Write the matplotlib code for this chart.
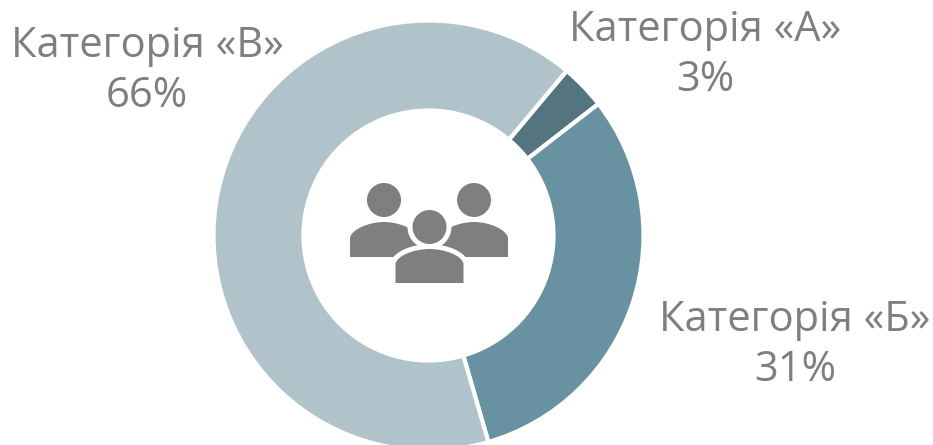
import matplotlib
matplotlib.use('Agg')
import matplotlib.pyplot as plt
from matplotlib.patches import Circle, PathPatch
from matplotlib.path import Path

categories = ['Категорія «А»', 'Категорія «Б»', 'Категорія «В»']
shares = [3.4, 31, 65.6]
colors = ['#54757f', '#6892a1', '#b1c3ca']

W, H = 933, 445
plt.rcParams['font.family'] = ['Open Sans', 'DejaVu Sans']

fig = plt.figure(figsize=(W / 100, H / 100), dpi=100)
ax = fig.add_axes([0, 0, 1, 1])

# y axis is flipped below, so the angle and direction are flipped too
cx, cy, r = 428.5, 235.5, 215
ax.pie(shares, colors=colors, center=(cx, cy), radius=r, startangle=-50, counterclock=True,
       wedgeprops=dict(width=90, edgecolor='white', linewidth=3), frame=True)
ax.set_xlim(0, W)
ax.set_ylim(H, 0)
ax.set_aspect('equal')
ax.axis('off')

# people icon
grey = '#7f7f7f'
def person(x, head_y, top, bottom, halo=False):
    w = 34
    verts = [(x - w, bottom), (x - w, bottom - 19),
             (x - w + 1, bottom - 27), (x - 16, top), (x, top),
             (x + 16, top), (x + w - 1, bottom - 27), (x + w, bottom - 19),
             (x + w, bottom), (x - w, bottom)]
    codes = [Path.MOVETO, Path.LINETO, Path.CURVE4, Path.CURVE4, Path.CURVE4,
             Path.CURVE4, Path.CURVE4, Path.CURVE4, Path.LINETO, Path.CLOSEPOLY]
    body = Path(verts, codes)
    if halo:
        ax.add_patch(Circle((x, head_y), 22, color='white', lw=0))
        ax.add_patch(PathPatch(body, facecolor='white', edgecolor='white', lw=7))
    ax.add_patch(Circle((x, head_y), 17, color=grey, lw=0))
    ax.add_patch(PathPatch(body, facecolor=grey, edgecolor='none'))

person(384, 200, 222, 257)
person(474, 200, 222, 257)
person(429.5, 227, 249, 283, halo=True)

fs = 30
spacing = 1.22
ax.text(705, 55, categories[0] + '\n%.0f%%' % shares[0], ha='center', va='center', fontsize=fs, color=grey, linespacing=spacing)
ax.text(795, 345, categories[1] + '\n%.0f%%' % shares[1], ha='center', va='center', fontsize=fs, color=grey, linespacing=spacing)
ax.text(147, 71, categories[2] + '\n%.0f%%' % shares[2], ha='center', va='center', fontsize=fs, color=grey, linespacing=spacing)

fig.savefig('out.png', dpi=100)
